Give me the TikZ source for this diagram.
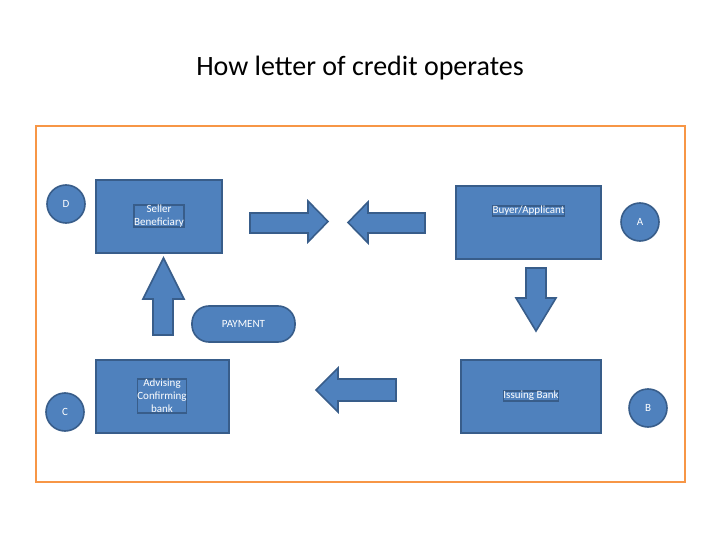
\documentclass[tikz,border=0pt]{standalone}
\usepackage{fontspec}
\setmainfont{Carlito}
\definecolor{bfill}{HTML}{4F81BD}
\definecolor{bline}{HTML}{385D8A}
\definecolor{orng}{HTML}{F79646}
\begin{document}
\begin{tikzpicture}[x=1pt,y=-1pt,
  box/.style={draw=bline,line width=1.6pt,fill=bfill,text=white,font=\fontsize{11}{13}\selectfont,align=center,inner sep=0pt},
  circ/.style={box,circle,minimum size=38pt},
  blk/.style={draw=bline,line width=1.6pt,fill=bfill,line join=miter}]
\useasboundingbox (0,0) rectangle (720,540);
\node[font=\fontsize{28}{32}\selectfont] (title) at (360,68) {How letter of credit operates};
\draw[orng,line width=2pt] (36,126) rectangle (685,482);
\node[box,minimum width=126pt,minimum height=73pt] (seller) at (159,216.5) {};
\node[box,text=white] at (159,216) {Seller\\Beneficiary};
\node[box,minimum width=145pt,minimum height=73pt] (buyer) at (528.5,222.5) {};
\node[box] at (528.5,211) {Buyer/Applicant};
\node[box,minimum width=133pt,minimum height=73pt] (adv) at (162.5,396.5) {};
\node[box] at (162,396) {Advising\\Confirming\\bank};
\node[box,minimum width=140pt,minimum height=73pt] (iss) at (531,396.5) {};
\node[box] at (531,396) {Issuing Bank};
\node[circ] (D) at (66,204) {D};
\node[circ] (C) at (65,412) {C};
\node[circ] (A) at (640,222) {A};
\node[circ] (B) at (648,408) {B};
% arrows
\draw[blk] (143,299)--(163.5,258)--(184,299)--(173,299)--(173,335)--(153,335)--(153,299)--cycle;
\draw[blk] (250,213)--(308,213)--(308,201)--(328,221.5)--(308,242)--(308,233)--(250,233)--cycle;
\draw[blk] (425,213)--(368,213)--(368,202)--(348,222.5)--(368,243)--(368,233)--(425,233)--cycle;
\draw[blk] (526,268)--(546,268)--(546,298)--(556,298)--(536,331)--(516,298)--(526,298)--cycle;
\draw[blk] (396,379)--(338,379)--(338,368)--(316,390)--(338,412)--(338,401)--(396,401)--cycle;
\node[box,rounded corners=17pt,minimum width=103pt,minimum height=36pt] (pay) at (243.5,324) {PAYMENT};
\end{tikzpicture}
\end{document}
